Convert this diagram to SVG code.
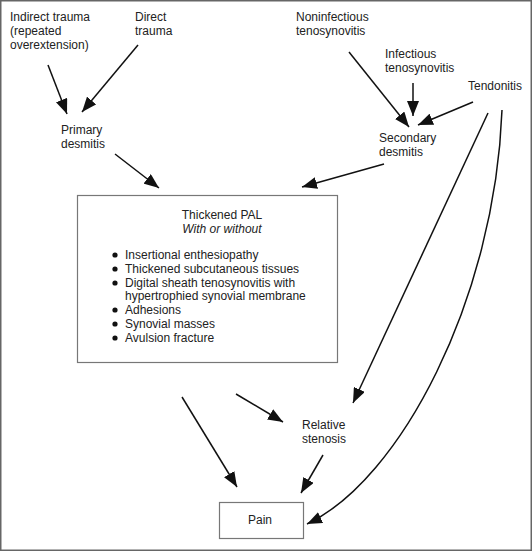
<svg xmlns="http://www.w3.org/2000/svg" width="532" height="551" viewBox="0 0 532 551">
<defs>
<style>
text{font-family:"Liberation Sans",Arial,sans-serif;font-size:12px;fill:#222}
.it{font-style:italic}
.box{fill:#fff;stroke:#777;stroke-width:1.2}
.c{fill:none;stroke:#111;stroke-width:1.5}
</style>
<marker id="ah" markerUnits="userSpaceOnUse" markerWidth="16" markerHeight="12" viewBox="0 0 16 12" refX="15" refY="6" orient="auto">
<path d="M0,0 L15,6 L0,12 Z" fill="#111"/>
</marker>
</defs>
<rect x="0.75" y="0.75" width="530.5" height="549.5" fill="#fff" stroke="#666" stroke-width="1.5"/>
<g id="indirect-trauma"><text x="10" y="21">Indirect trauma</text><text x="10" y="35">(repeated</text><text x="10" y="49">overextension)</text></g>
<g id="direct-trauma"><text x="135" y="21">Direct</text><text x="135" y="35">trauma</text></g>
<g id="primary-desmitis"><text x="61" y="134">Primary</text><text x="61" y="148">desmitis</text></g>
<g id="noninfectious"><text x="296" y="21">Noninfectious</text><text x="296" y="35">tenosynovitis</text></g>
<g id="infectious"><text x="385" y="58">Infectious</text><text x="385" y="72">tenosynovitis</text></g>
<g id="tendonitis"><text x="468" y="90">Tendonitis</text></g>
<g id="secondary-desmitis"><text x="379" y="142">Secondary</text><text x="379" y="156">desmitis</text></g>
<g id="thickened-pal">
<rect class="box" x="77.5" y="195.5" width="260" height="167"/>
<text x="222" y="219" text-anchor="middle">Thickened PAL</text>
<text x="222" y="233" text-anchor="middle" class="it">With or without</text>
<g fill="#111"><circle cx="115" cy="255" r="2.6"/><circle cx="115" cy="269" r="2.6"/><circle cx="115" cy="283" r="2.6"/><circle cx="115" cy="310" r="2.6"/><circle cx="115" cy="324" r="2.6"/><circle cx="115" cy="338" r="2.6"/></g>
<text x="125" y="259">Insertional enthesiopathy</text>
<text x="125" y="273">Thickened subcutaneous tissues</text>
<text x="125" y="287">Digital sheath tenosynovitis with</text>
<text x="125" y="300">hypertrophied synovial membrane</text>
<text x="125" y="314">Adhesions</text>
<text x="125" y="328">Synovial masses</text>
<text x="125" y="342">Avulsion fracture</text>
</g>
<g id="relative-stenosis"><text x="302" y="429">Relative</text><text x="302" y="443">stenosis</text></g>
<g id="pain"><rect class="box" x="219.5" y="502.5" width="84" height="36"/><text x="260" y="524" text-anchor="middle">Pain</text></g>
<g id="connectors" class="c" marker-end="url(#ah)">
<line class="c" x1="48" y1="65" x2="67" y2="114" marker-end="url(#ah)"/>
<line class="c" x1="138" y1="45" x2="82" y2="112" marker-end="url(#ah)"/>
<line class="c" x1="115" y1="154" x2="159" y2="188" marker-end="url(#ah)"/>
<line class="c" x1="349" y1="52" x2="409" y2="127" marker-end="url(#ah)"/>
<line class="c" x1="413" y1="83" x2="413" y2="116" marker-end="url(#ah)"/>
<line class="c" x1="473" y1="102" x2="418" y2="125" marker-end="url(#ah)"/>
<line class="c" x1="384" y1="164" x2="302" y2="187" marker-end="url(#ah)"/>
<line class="c" x1="488" y1="113" x2="353" y2="403" marker-end="url(#ah)"/>
<path class="c" d="M502,110 C495,300 400,480 307,524" marker-end="url(#ah)"/>
<line class="c" x1="182" y1="397" x2="237" y2="487" marker-end="url(#ah)"/>
<line class="c" x1="236" y1="394" x2="283" y2="422" marker-end="url(#ah)"/>
<line class="c" x1="323" y1="455" x2="301" y2="493" marker-end="url(#ah)"/>
</g>
</svg>
